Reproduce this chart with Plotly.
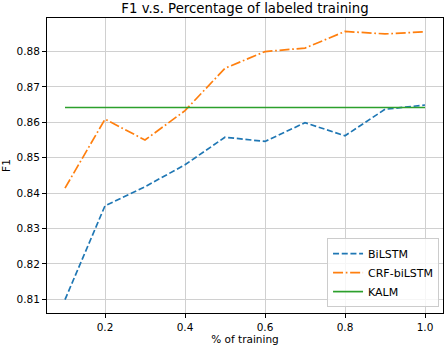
import plotly.graph_objects as go

pct = [0.1, 0.2, 0.3, 0.4, 0.5, 0.6, 0.7, 0.8, 0.9, 1.0]
bilstm = [0.8099, 0.8364, 0.8418, 0.8480, 0.8558, 0.8546, 0.8599, 0.8562, 0.8637, 0.8649]
crf_bilstm = [0.8414, 0.8609, 0.8550, 0.8633, 0.8753, 0.8800, 0.8810, 0.8857, 0.8850, 0.8856]
kalm = [0.8642] * len(pct)

x_ticks = [0.2, 0.4, 0.6, 0.8, 1.0]
y_ticks = [0.81, 0.82, 0.83, 0.84, 0.85, 0.86, 0.87, 0.88]

font = "DejaVu Sans, Liberation Sans, sans-serif"

fig = go.Figure()
fig.add_trace(go.Scatter(x=pct, y=bilstm, mode="lines", name="BiLSTM",
                         line=dict(color="#1f77b4", width=1.7, dash="6px,2.7px")))
fig.add_trace(go.Scatter(x=pct, y=crf_bilstm, mode="lines", name="CRF-biLSTM",
                         line=dict(color="#ff7f0e", width=1.7, dash="10px,2.7px,1.7px,2.7px")))
fig.add_trace(go.Scatter(x=pct, y=kalm, mode="lines", name="KALM",
                         line=dict(color="#2ca02c", width=1.7)))

axis_common = dict(showline=True, linecolor="black", linewidth=1, mirror=True,
                   ticks="outside", ticklen=4, tickwidth=1, tickcolor="black",
                   showgrid=True, gridcolor="#d0d0d0", gridwidth=1, zeroline=False,
                   tickfont=dict(family=font, size=10.5, color="black"))

fig.update_layout(
    width=444, height=348,
    margin=dict(l=47, r=1, t=18, b=35),
    paper_bgcolor="white", plot_bgcolor="white",
    title=dict(text="F1 v.s. Percentage of labeled training", x=0.5, xref="paper",
               xanchor="center", y=0.99, yanchor="top",
               font=dict(family=font, size=13.3, color="black")),
    xaxis=dict(range=[0.055, 1.045], tickvals=x_ticks, tickformat=".1f",
               title=dict(text="% of training", font=dict(family=font, size=10.5, color="black"), standoff=3),
               **axis_common),
    yaxis=dict(range=[0.8061, 0.8895], tickvals=y_ticks, tickformat=".2f",
               title=dict(text="F1", font=dict(family=font, size=10.5, color="black"), standoff=5),
               **axis_common),
    legend=dict(x=0.99, y=0.02, xanchor="right", yanchor="bottom",
                bgcolor="rgba(255,255,255,0.8)", bordercolor="#cccccc", borderwidth=1,
                font=dict(family=font, size=11, color="black"), tracegroupgap=0),
    showlegend=True,
)

fig.write_html("out.html", config={"displayModeBar": False},
               post_script="document.body.style.margin='0';document.body.style.overflow='hidden';")
